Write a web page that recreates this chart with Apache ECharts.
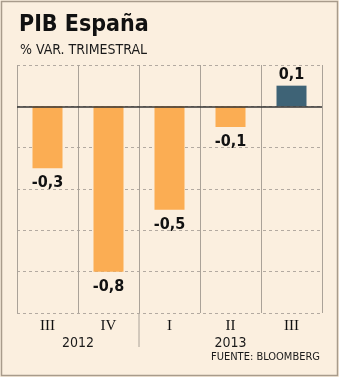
<!DOCTYPE html>
<html>
<head>
<meta charset="utf-8">
<script src="https://cdn.jsdelivr.net/npm/echarts@6/dist/echarts.min.js"></script>
<style>
  html, body { margin: 0; padding: 0; background: #ffffff; }
  #chart { width: 339px; height: 377px; }
</style>
</head>
<body>
<div id="chart"></div>
<script>
// Quarterly GDP change, Spain (% quarter on quarter)
const quarters = ['III', 'IV', 'I', 'II', 'III'];
const gdpChange = [-0.3, -0.8, -0.5, -0.1, 0.1];
const years = ['2012', '2013'];
// first and last quarter index belonging to each year
const yearSpans = [[0, 1], [2, 4]];
const yTicks = { min: -1, max: 0.2, step: 0.2 };

const titleText = 'PIB España';
const subtitleText = '% VAR. TRIMESTRAL';
const sourceText = 'FUENTE: BLOOMBERG';

const COND = '"DejaVu Sans Condensed", "Liberation Sans", sans-serif';
const ORANGE = '#fbad53';
const TEAL = '#3e6376';
const BG = '#fbefdf';
const GRID_GREY = '#aaa298';

const fmt = v => String(v).replace('.', ',');

const chart = echarts.init(document.getElementById('chart'), null, { renderer: 'canvas' });

const barData = gdpChange.map(v => ({
  value: v,
  itemStyle: { color: v >= 0 ? TEAL : ORANGE },
  label: { position: v >= 0 ? 'top' : 'bottom', distance: v >= 0 ? 3 : 7 }
}));

// frame and header texts
const baseGraphics = [
  {
    type: 'rect', silent: true,
    shape: { x: 1.5, y: 1.5, width: 336, height: 374 },
    style: { fill: 'none', stroke: '#a89b8b', lineWidth: 1.5 }
  },
  {
    type: 'text', left: 19, top: 14,
    style: { text: titleText, font: 'bold 23px ' + COND, fill: '#111111' }
  },
  {
    type: 'text', left: 20, top: 43,
    style: { text: subtitleText, font: '14px ' + COND, fill: '#1a1a1a' }
  },
  {
    type: 'text', right: 19, top: 352,
    style: { text: sourceText, font: '11px ' + COND, fill: '#1a1a1a' }
  }
];

chart.setOption({
  animation: false,
  backgroundColor: BG,
  grid: { left: 17, right: 17, top: 65, bottom: 64, containLabel: false },
  xAxis: {
    type: 'category',
    data: quarters,
    boundaryGap: true,
    axisLine: { show: false },
    axisTick: { show: false },
    axisLabel: {
      margin: 6,
      fontFamily: '"Liberation Serif", serif',
      fontSize: 15,
      color: '#111111'
    },
    splitLine: { show: true, lineStyle: { color: GRID_GREY, width: 1, type: 'solid' } }
  },
  yAxis: {
    type: 'value',
    min: yTicks.min,
    max: yTicks.max,
    interval: yTicks.step,
    axisLine: { show: false },
    axisTick: { show: false },
    axisLabel: { show: false },
    splitLine: { show: true, lineStyle: { color: '#b3aaa1', width: 1, type: [3, 3] } }
  },
  series: [{
    type: 'bar',
    data: barData,
    barWidth: 30,
    label: {
      show: true,
      formatter: p => fmt(p.value),
      fontFamily: COND,
      fontWeight: 'bold',
      fontSize: 16,
      color: '#111111'
    },
    markLine: {
      silent: true,
      symbol: 'none',
      label: { show: false },
      lineStyle: { color: '#333333', width: 1.5, type: 'solid' },
      data: [{ yAxis: 0 }]
    }
  }],
  graphic: { elements: baseGraphics }
});

// Year labels and the divider between years, placed with the category axis scale
const catX = i => chart.convertToPixel({ xAxisIndex: 0 }, i);
const axisBottom = chart.convertToPixel({ yAxisIndex: 0 }, yTicks.min);
const yearGraphics = [];
years.forEach((yr, k) => {
  const [a, b] = yearSpans[k];
  yearGraphics.push({
    type: 'text',
    x: (catX(a) + catX(b)) / 2,
    y: axisBottom + 30,
    style: { text: yr, font: '14px ' + COND, fill: '#1a1a1a', align: 'center', verticalAlign: 'middle' }
  });
  if (k > 0) {
    const xSep = (catX(a - 1) + catX(a)) / 2;
    yearGraphics.push({
      type: 'line', silent: true,
      shape: { x1: xSep, y1: axisBottom, x2: xSep, y2: axisBottom + 34 },
      style: { stroke: GRID_GREY, lineWidth: 1 }
    });
  }
});
chart.setOption({ graphic: { elements: baseGraphics.concat(yearGraphics) } });
</script>
</body>
</html>
